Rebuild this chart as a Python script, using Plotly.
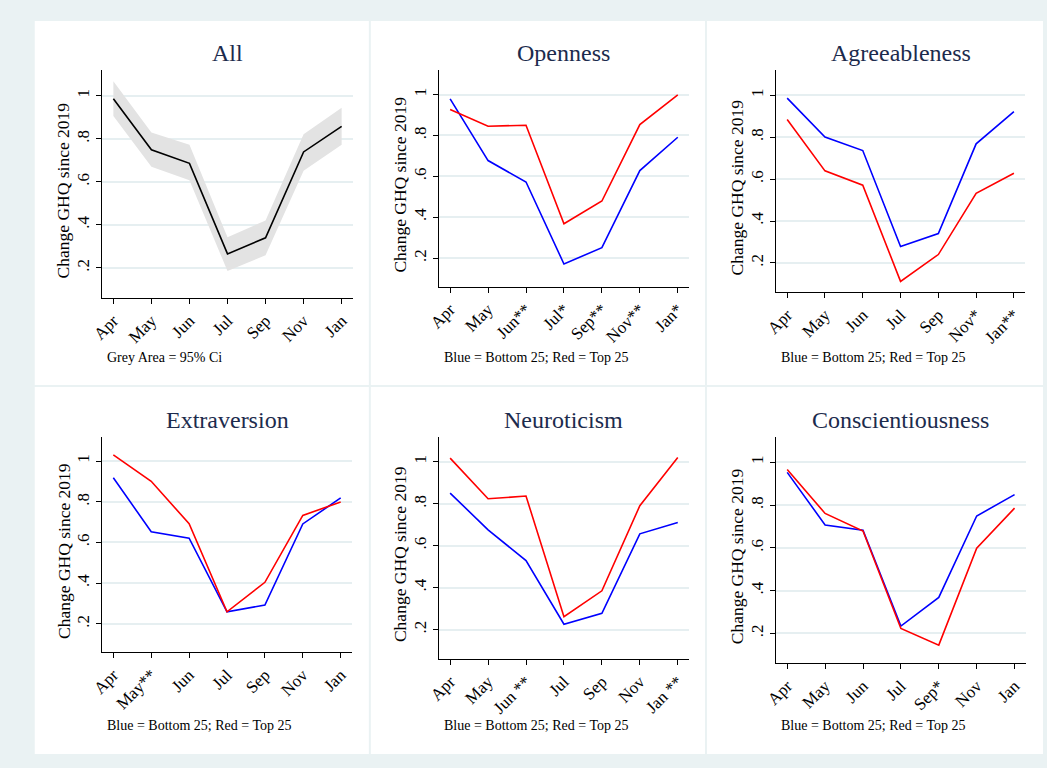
import plotly.graph_objects as go

W, H = 1047, 768

months = ["Apr", "May", "Jun", "Jul", "Sep", "Nov", "Jan"]
xpos = list(range(len(months)))

# Panel "All"
all_mean = [0.986, 0.749, 0.686, 0.265, 0.340, 0.739, 0.858]
all_upper = [1.068, 0.830, 0.772, 0.343, 0.420, 0.821, 0.945]
all_lower = [0.906, 0.670, 0.608, 0.185, 0.259, 0.652, 0.773]

# Openness
open_bottom = [0.979, 0.677, 0.572, 0.171, 0.251, 0.628, 0.791]
open_top = [0.927, 0.845, 0.850, 0.368, 0.479, 0.853, 0.998]
open_ticks = ["Apr", "May", "Jun**", "Jul*", "Sep**", "Nov**", "Jan*"]

# Agreeableness
agree_bottom = [0.986, 0.800, 0.736, 0.278, 0.340, 0.768, 0.922]
agree_top = [0.884, 0.639, 0.571, 0.112, 0.240, 0.532, 0.628]
agree_ticks = ["Apr", "May", "Jun", "Jul", "Sep", "Nov*", "Jan**"]

# Extraversion
extra_bottom = [0.918, 0.653, 0.621, 0.259, 0.292, 0.691, 0.819]
extra_top = [1.031, 0.901, 0.692, 0.259, 0.404, 0.733, 0.799]
extra_ticks = ["Apr", "May**", "Jun", "Jul", "Sep", "Nov", "Jan"]

# Neuroticism
neuro_bottom = [0.851, 0.676, 0.529, 0.226, 0.278, 0.657, 0.711]
neuro_top = [1.018, 0.824, 0.837, 0.262, 0.385, 0.791, 1.021]
neuro_ticks = ["Apr", "May", "Jun **", "Jul", "Sep", "Nov", "Jan **"]

# Conscientiousness
consc_bottom = [0.953, 0.707, 0.682, 0.234, 0.368, 0.749, 0.849]
consc_top = [0.967, 0.761, 0.679, 0.223, 0.145, 0.598, 0.786]
consc_ticks = ["Apr", "May", "Jun", "Jul", "Sep*", "Nov", "Jan"]

y_tickvals = [0.2, 0.4, 0.6, 0.8, 1.0]
y_ticktext = [".2", ".4", ".6", ".8", "1"]

FONT = "Liberation Serif, Times New Roman, serif"
TITLE_COLOR = "#1c2b4d"
BG = "#EAF2F3"
GRID = "#E6EFF1"
BLUE = "#0000FF"
RED = "#FF0000"

# panel specs: (title, ticks, note, panel box px, axis x px, axis y px)
panels = [
    ("All", months, "Grey Area = 95% Ci", (23, 361, 21, 385), (91, 345), (70, 298)),
    ("Openness", open_ticks, "Blue = Bottom 25; Red = Top 25", (363, 701, 21, 385), (431.7, 685), (70, 286.7)),
    ("Agreeableness", agree_ticks, "Blue = Bottom 25; Red = Top 25", (703, 1043, 21, 385), (772.7, 1025), (70, 292.3)),
    ("Extraversion", extra_ticks, "Blue = Bottom 25; Red = Top 25", (23, 361, 387, 754), (91, 344), (436.7, 652.3)),
    ("Neuroticism", neuro_ticks, "Blue = Bottom 25; Red = Top 25", (363, 701, 387, 754), (431.7, 685), (436.7, 659)),
    ("Conscientiousness", consc_ticks, "Blue = Bottom 25; Red = Top 25", (703, 1043, 387, 754), (772.7, 1025.7), (436.7, 663.3)),
]

series = [
    None,
    (open_bottom, open_top),
    (agree_bottom, agree_top),
    (extra_bottom, extra_top),
    (neuro_bottom, neuro_top),
    (consc_bottom, consc_top),
]

fig = go.Figure()

def px_x(x):
    return x / W

def px_y(y):
    return 1 - y / H

shapes = []
annotations = []
layout_axes = {}

for i, (title, ticks, note, box, ax_x, ax_y) in enumerate(panels):
    n = i + 1
    xa = "x" if n == 1 else f"x{n}"
    ya = "y" if n == 1 else f"y{n}"
    xkey = "xaxis" if n == 1 else f"xaxis{n}"
    ykey = "yaxis" if n == 1 else f"yaxis{n}"

    shapes.append(dict(type="rect", xref="paper", yref="paper",
                       x0=px_x(box[0]), x1=px_x(box[1]),
                       y0=px_y(box[3]), y1=px_y(box[2]),
                       fillcolor="white", line=dict(width=0), layer="below"))

    layout_axes[xkey] = dict(
        domain=[px_x(ax_x[0]), px_x(ax_x[1])],
        anchor=ya, range=[-0.3, 6.3],
        tickmode="array", tickvals=xpos, ticktext=ticks,
        tickangle=-45, ticks="outside", ticklen=5, tickcolor="black",
        tickfont=dict(family=FONT, size=17, color="black"),
        showline=True, linecolor="black", linewidth=1.2,
        showgrid=False, zeroline=False, fixedrange=True,
    )
    layout_axes[ykey] = dict(
        domain=[px_y(ax_y[1]), px_y(ax_y[0])],
        anchor=xa, range=[0.06, 1.12],
        tickmode="array", tickvals=y_tickvals, ticktext=y_ticktext,
        tickangle=-90, ticks="outside", ticklen=5, tickcolor="black",
        tickfont=dict(family=FONT, size=17, color="black"),
        showline=True, linecolor="black", linewidth=1.2,
        showgrid=True, gridcolor=GRID, gridwidth=1.5,
        zeroline=False, fixedrange=True,
    )

    cx = (ax_x[0] + ax_x[1]) / 2
    ty = 53 if n <= 3 else 420
    annotations.append(dict(text=title, xref="paper", yref="paper",
                            x=px_x(cx), y=px_y(ty), xanchor="center", yanchor="middle",
                            showarrow=False,
                            font=dict(family=FONT, size=24, color=TITLE_COLOR)))
    ymid = (ax_y[0] + ax_y[1]) / 2 + 6
    annotations.append(dict(text="Change GHQ since 2019", xref="paper", yref="paper",
                            x=px_x(ax_x[0] - 39), y=px_y(ymid), xanchor="center", yanchor="middle",
                            textangle=-90, showarrow=False,
                            font=dict(family=FONT, size=17.5, color="black")))
    ny = 358 if n <= 3 else 725
    annotations.append(dict(text=note, xref="paper", yref="paper",
                            x=px_x(ax_x[0] + 3), y=px_y(ny), xanchor="left", yanchor="middle",
                            showarrow=False,
                            font=dict(family=FONT, size=14, color="black")))

    if n == 1:
        fig.add_trace(go.Scatter(x=xpos, y=all_upper, mode="lines", line=dict(width=0),
                                 xaxis=xa, yaxis=ya, showlegend=False, hoverinfo="skip"))
        fig.add_trace(go.Scatter(x=xpos, y=all_lower, mode="lines", line=dict(width=0),
                                 fill="tonexty", fillcolor="#E3E3E3",
                                 xaxis=xa, yaxis=ya, showlegend=False, hoverinfo="skip"))
        fig.add_trace(go.Scatter(x=xpos, y=all_mean, mode="lines",
                                 line=dict(color="black", width=1.6),
                                 xaxis=xa, yaxis=ya, showlegend=False, name="All"))
    else:
        bottom, top = series[i]
        fig.add_trace(go.Scatter(x=xpos, y=bottom, mode="lines",
                                 line=dict(color=BLUE, width=1.6),
                                 xaxis=xa, yaxis=ya, showlegend=False, name="Bottom 25"))
        fig.add_trace(go.Scatter(x=xpos, y=top, mode="lines",
                                 line=dict(color=RED, width=1.6),
                                 xaxis=xa, yaxis=ya, showlegend=False, name="Top 25"))

fig.update_layout(
    width=W, height=H,
    margin=dict(l=0, r=0, t=0, b=0),
    paper_bgcolor=BG, plot_bgcolor="rgba(0,0,0,0)",
    shapes=shapes, annotations=annotations,
    showlegend=False,
    **layout_axes,
)

fig.write_html(
    "out.html",
    config={"displayModeBar": False},
    post_script="document.body.style.margin='0';document.body.style.overflow='hidden';",
)
